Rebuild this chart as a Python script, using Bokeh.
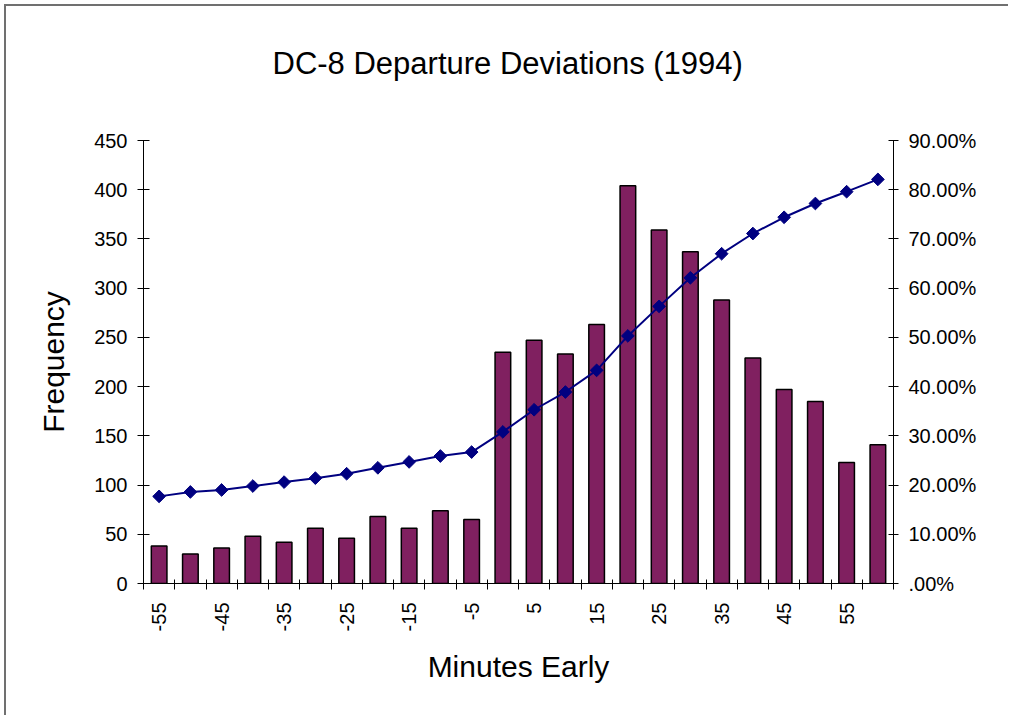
import math
from bokeh.plotting import figure
from bokeh.models import (ColumnDataSource, Range1d, LinearAxis, FixedTicker,
                          CustomJSTickFormatter)
from bokeh.embed import file_html
from bokeh.resources import INLINE

# ---- data ----
minutes = [-55, -50, -45, -40, -35, -30, -25, -20, -15, -10, -5, 0,
           5, 10, 15, 20, 25, 30, 35, 40, 45, 50, 55, 60]
frequency = [38, 30, 36, 48, 42, 56, 46, 68, 56, 74, 65, 235,
             247, 233, 263, 404, 359, 337, 288, 229, 197, 185, 123, 141]
cumulative_pct = [17.7, 18.6, 19.0, 19.8, 20.6, 21.4, 22.3, 23.5, 24.7, 25.9, 26.7, 30.8,
                  35.3, 38.9, 43.3, 50.3, 56.3, 62.1, 67.0, 71.1, 74.4, 77.2, 79.6, 82.1]
x_labels = [-55, -45, -35, -25, -15, -5, 5, 15, 25, 35, 45, 55]
freq_ticks = [0, 50, 100, 150, 200, 250, 300, 350, 400, 450]
pct_ticks = [0, 10, 20, 30, 40, 50, 60, 70, 80, 90]
title_text = "DC-8 Departure Deviations (1994)"
x_title = "Minutes Early"
y_title = "Frequency"

FONT = "Liberation Sans"

src = ColumnDataSource(dict(x=minutes, freq=frequency, pct=cumulative_pct))

p = figure(width=1004, height=711, output_backend="svg", toolbar_location=None,
           x_range=Range1d(minutes[0] - 2.5, minutes[-1] + 2.5),
           y_range=Range1d(0, 450),
           min_border_left=137, min_border_right=117,
           min_border_top=134, min_border_bottom=134,
           title=title_text + "\n ")
p.styles = {"margin-left": "4px", "margin-top": "4px",
            "border-left": "2px solid #707070", "border-top": "2px solid #707070"}
p.extra_y_ranges = {"pct": Range1d(0, 90)}

p.title.text_font = FONT
p.title.text_font_size = "31px"
p.title.text_font_style = "normal"
p.title.align = "left"
p.title.offset = 129
p.title.vertical_align = "top"
p.title.standoff = 46
p.title.text_color = "black"

p.xgrid.visible = False
p.ygrid.visible = False
p.outline_line_color = None
p.background_fill_color = "white"
p.border_fill_color = "white"

# bars
p.vbar(x="x", top="freq", width=2.5, source=src, fill_color="#802060",
       line_color="black", line_width=1.5)

# cumulative line
p.line(x="x", y="pct", source=src, y_range_name="pct", line_color="#000080", line_width=2)
p.scatter(x="x", y="pct", source=src, y_range_name="pct", marker="square",
          angle=math.pi / 4, size=9, fill_color="#000080", line_color="#000080")

# x axis
xa = p.xaxis[0]
minor = [m - 2.5 for m in minutes] + [minutes[-1] + 2.5]
xa.ticker = FixedTicker(ticks=x_labels, minor_ticks=minor)
xa.formatter = CustomJSTickFormatter(code="return String(tick);")
xa.major_tick_line_color = None
xa.minor_tick_in = 4
xa.minor_tick_out = 6
xa.minor_tick_line_color = "black"
xa.major_label_orientation = math.pi / 2
xa.major_label_standoff = 13
xa.axis_label = x_title
xa.axis_label_standoff = 16

# left axis
ya = p.yaxis[0]
ya.ticker = FixedTicker(ticks=freq_ticks)
ya.major_tick_in = 6
ya.major_tick_out = 6
ya.minor_tick_line_color = None
ya.major_label_standoff = 10
ya.axis_label = y_title
ya.axis_label_standoff = 21

# right axis
ra = LinearAxis(y_range_name="pct")
ra.ticker = FixedTicker(ticks=pct_ticks)
ra.formatter = CustomJSTickFormatter(code="""
    if (Math.abs(tick) < 1e-9) { return ".00%"; }
    return tick.toFixed(2) + "%";
""")
ra.major_tick_in = 5
ra.major_tick_out = 5
ra.minor_tick_line_color = None
ra.major_label_standoff = 10
p.add_layout(ra, "right")

for ax in (xa, ya, ra):
    ax.axis_line_color = "black"
    ax.major_label_text_font = FONT
    ax.major_label_text_font_size = "20px"
    ax.major_label_text_color = "black"
    ax.axis_label_text_font = FONT
    ax.axis_label_text_font_size = "30px"
    ax.axis_label_text_font_style = "normal"
    ax.axis_label_text_color = "black"
ya.major_tick_line_color = "black"
ra.major_tick_line_color = "black"

open("out.html", "w").write(file_html(p, INLINE))
